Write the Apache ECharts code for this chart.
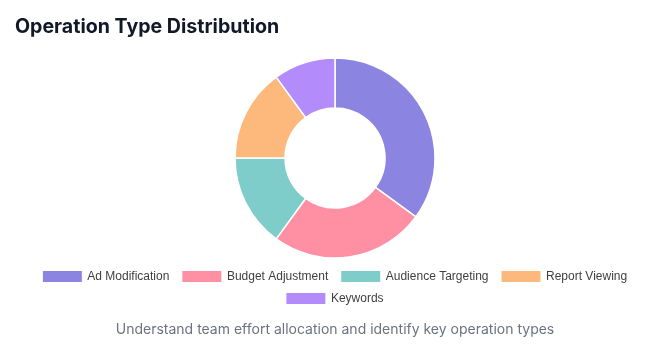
<!DOCTYPE html>
<html>
<head>
<meta charset="utf-8">
<script src="https://cdn.jsdelivr.net/npm/echarts@6/dist/echarts.min.js"></script>
<style>
html,body{margin:0;padding:0;background:#fff;}
#c{width:669px;height:356px;}
</style>
</head>
<body>
<div id="c"></div>
<script>
const categories = ['Ad Modification', 'Budget Adjustment', 'Audience Targeting', 'Report Viewing', 'Keywords'];
const values = [35, 25, 15, 15, 10];
const colors = ['#8B85E1', '#FF8FA3', '#7ECDCA', '#FDB97B', '#B38BFB'];
const titleText = 'Operation Type Distribution';
const subtitleText = 'Understand team effort allocation and identify key operation types';

const chart = echarts.init(document.getElementById('c'));
const legendBase = {
  orient: 'horizontal',
  icon: 'rect',
  itemWidth: 40,
  itemHeight: 12,
  itemGap: 12,
  padding: 0,
  itemStyle: { borderColor: '#ffffff', borderWidth: 1 },
  textStyle: { fontFamily: 'Liberation Sans, Arial, sans-serif', fontSize: 12, color: '#3f3f3f' },
  selectedMode: false
};
chart.setOption({
  animation: false,
  color: colors,
  title: [
    { text: titleText, left: 15, top: 17, padding: 0,
      textStyle: { fontFamily: 'Inter, sans-serif', fontSize: 19.6, fontWeight: 700, color: '#111827' } },
    { text: subtitleText, left: 335, top: 323, padding: 0, textAlign: 'center',
      textStyle: { fontFamily: 'Inter, sans-serif', fontSize: 14, fontWeight: 400, color: '#6b7280' } }
  ],
  legend: [
    Object.assign({}, legendBase, { data: categories.slice(0, 4), left: 'center', top: 270 }),
    Object.assign({}, legendBase, { data: categories.slice(4), left: 'center', top: 292 })
  ],
  series: [{
    type: 'pie',
    center: [335, 158],
    radius: [50, 100],
    startAngle: 90,
    clockwise: true,
    label: { show: false },
    labelLine: { show: false },
    itemStyle: { borderColor: '#ffffff', borderWidth: 1.5 },
    emphasis: { disabled: true },
    data: categories.map((n, i) => ({ name: n, value: values[i] }))
  }]
});
</script>
</body>
</html>
